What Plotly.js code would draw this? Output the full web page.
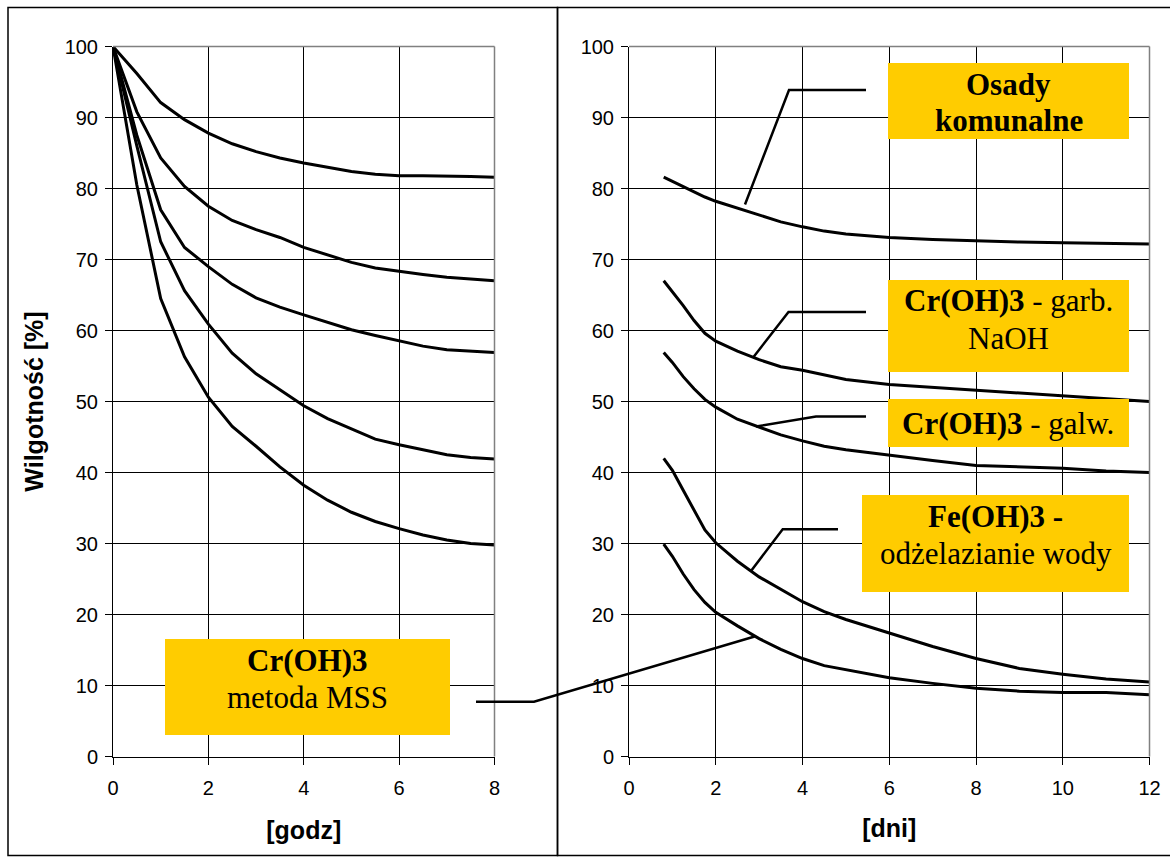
<!DOCTYPE html>
<html>
<head>
<meta charset="utf-8">
<script src="https://cdn.plot.ly/plotly-3.0.1.min.js"></script>
<style>html,body{margin:0;padding:0;background:#fff;}#chart{width:1170px;height:857px;}</style>
</head>
<body>
<div id="chart"></div>
<script>
// ---- data: left panel (hours) ----
const hours = [0,0.5,1,1.5,2,2.5,3,3.5,4,4.5,5,5.5,6,6.5,7,7.5,8];
const godz1 = [100,96.2,92.1,89.7,87.8,86.3,85.2,84.3,83.6,83.0,82.4,82.0,81.8,81.8,81.8,81.7,81.6];
const godz2 = [100,90.8,84.3,80.3,77.5,75.5,74.2,73.1,71.7,70.6,69.6,68.8,68.3,67.9,67.5,67.3,67.0];
const godz3 = [100,87.5,77.0,71.7,69.0,66.5,64.6,63.3,62.2,61.1,60.1,59.3,58.6,57.8,57.3,57.1,56.9];
const godz4 = [100,86.0,72.5,65.6,60.9,56.8,53.9,51.6,49.4,47.6,46.1,44.7,43.9,43.2,42.5,42.1,41.9];
const godz5 = [100,80.5,64.5,56.3,50.6,46.5,43.7,40.8,38.2,36.1,34.4,33.1,32.1,31.2,30.5,30.0,29.8];

// ---- data: right panel (days) ----
const days = [0.8,1,1.25,1.5,1.75,2,2.5,3,3.5,4,4.5,5,6,7,8,9,10,11,12];
const osadyKom = [81.6,81.0,80.2,79.5,78.8,78.2,77.2,76.2,75.3,74.6,74.0,73.6,73.1,72.8,72.6,72.45,72.35,72.25,72.2];
const crGarb   = [67.0,65.5,63.5,61.4,59.6,58.5,57.1,55.9,54.9,54.4,53.7,53.1,52.4,52.0,51.6,51.25,50.9,50.5,50.0];
const crGalw   = [56.9,55.5,53.5,51.8,50.3,49.2,47.5,46.35,45.3,44.45,43.7,43.2,42.4,41.7,41.0,40.8,40.6,40.2,40.0];
const feOdz    = [42.0,40.3,37.5,34.6,31.9,30.1,27.5,25.3,23.5,21.8,20.4,19.3,17.4,15.5,13.8,12.4,11.6,10.9,10.5];
const crMss    = [29.9,28.2,25.7,23.5,21.7,20.3,18.4,16.6,15.1,13.8,12.8,12.2,11.1,10.3,9.6,9.2,9.0,9.0,8.7];

// ---- labels ----
const yTitle = 'Wilgotność [%]';
const xTitleLeft = '[godz]';
const xTitleRight = '[dni]';

const W = 1170, H = 857;
const X = p => p / W;
const Y = p => 1 - p / H;

const lineStyle = {color:'#000', width:3};
function tr(x, y, xa, ya){
  return {x:x, y:y, xaxis:xa, yaxis:ya, type:'scatter', mode:'lines', line:lineStyle, hoverinfo:'skip'};
}
const data = [
  tr(hours, godz1, 'x', 'y'),
  tr(hours, godz2, 'x', 'y'),
  tr(hours, godz3, 'x', 'y'),
  tr(hours, godz4, 'x', 'y'),
  tr(hours, godz5, 'x', 'y'),
  tr(days, osadyKom, 'x2', 'y2'),
  tr(days, crGarb, 'x2', 'y2'),
  tr(days, crGalw, 'x2', 'y2'),
  tr(days, feOdz, 'x2', 'y2'),
  tr(days, crMss, 'x2', 'y2')
];

const tickFont = {family:'Liberation Sans, Arial, sans-serif', size:20, color:'#000'};
const titleFont = {family:'Liberation Sans, Arial, sans-serif', size:25, color:'#000'};
function axis(extra){
  return Object.assign({
    showgrid:true, gridcolor:'#000', gridwidth:1,
    zeroline:false, showline:true, linecolor:'#000', linewidth:1,
    ticks:'outside', ticklen:7, tickwidth:1, tickcolor:'#000',
    tickfont:tickFont, fixedrange:true, automargin:false, tick0:0
  }, extra);
}
const yDom = [Y(756.5), Y(46.5)];

const shapes = [];
// panel frames
shapes.push({type:'rect', xref:'paper', yref:'paper', x0:X(8), x1:X(557.5), y0:Y(855.5), y1:Y(7.5), line:{color:'#000', width:1.5}, layer:'above'});
shapes.push({type:'rect', xref:'paper', yref:'paper', x0:X(557.5), x1:X(1180), y0:Y(855.5), y1:Y(7.5), line:{color:'#000', width:1.5}, layer:'above'});
// grey plot-area border (top and right)
['x','x2'].forEach((xa,i)=>{
  const ya = i===0 ? 'y' : 'y2';
  shapes.push({type:'line', xref:xa+' domain', yref:ya+' domain', x0:0, x1:1, y0:1, y1:1, line:{color:'#808080', width:1.5}, layer:'above'});
  shapes.push({type:'line', xref:xa+' domain', yref:ya+' domain', x0:1, x1:1, y0:0, y1:1, line:{color:'#808080', width:1.5}, layer:'above'});
});
// label boxes
const boxes = [
  [888,1129,63,139],
  [888,1129,280,372],
  [888,1129,399,447],
  [862,1129,495,592],
  [165,450,639,735]
];
boxes.forEach(b=>shapes.push({type:'rect', xref:'paper', yref:'paper', x0:X(b[0]), x1:X(b[1]), y0:Y(b[3]), y1:Y(b[2]), fillcolor:'#FFCC00', line:{width:0}, layer:'above'}));
// leader lines
const leaders = [
  [[745,204.5],[789,90],[866,90]],
  [[753.5,357],[788.5,312],[866,312]],
  [[756,426.5],[816,416.5],[866,416.5]],
  [[751,571],[782.7,529.3],[838,529.3]],
  [[476,701.7],[534,701.7],[754.6,636.5]]
];
leaders.forEach(pts=>{
  const d = pts.map((p,i)=>(i?'L':'M')+X(p[0]).toFixed(5)+','+Y(p[1]).toFixed(5)).join(' ');
  shapes.push({type:'path', xref:'paper', yref:'paper', path:d, line:{color:'#000', width:2.5}, layer:'above'});
});

const serif = 'Liberation Serif, Times New Roman, serif';
function lbl(x, y, text){
  return {xref:'paper', yref:'paper', x:X(x), y:Y(y), xanchor:'center', yanchor:'middle', showarrow:false, text:text, font:{family:serif, size:31, color:'#000'}};
}
const annotations = [
  lbl(1008.5, 84, '<b>Osady</b>'),
  lbl(1008.5, 120, '<b>komunalne</b>'),
  lbl(1008, 300, '<b>Cr(OH)3</b> - garb.'),
  lbl(1008, 338, 'NaOH'),
  lbl(1008, 423, '<b>Cr(OH)3</b> - galw.'),
  lbl(995.5, 516, '<b>Fe(OH)3 -</b>'),
  lbl(995.5, 553, 'odżelazianie wody'),
  lbl(307.5, 660, '<b>Cr(OH)3</b>'),
  lbl(307.5, 697, 'metoda MSS')
];

const layout = {
  width:W, height:H, margin:{l:0, r:0, t:0, b:0},
  paper_bgcolor:'#fff', plot_bgcolor:'#fff', showlegend:false,
  xaxis: axis({domain:[X(113), X(494.5)], range:[0,8], dtick:2, anchor:'y', ticklabelstandoff:6,
    title:{text:'<b>'+xTitleLeft+'</b>', font:titleFont, standoff:23}}),
  yaxis: axis({domain:yDom, range:[0,100], dtick:10, anchor:'x', ticklabelstandoff:3,
    title:{text:'<b>'+yTitle+'</b>', font:titleFont, standoff:13}}),
  xaxis2: axis({domain:[X(629), X(1149.5)], range:[0,12], dtick:2, anchor:'y2', ticklabelstandoff:6,
    title:{text:'<b>'+xTitleRight+'</b>', font:titleFont, standoff:21}}),
  yaxis2: axis({domain:yDom, range:[0,100], dtick:10, anchor:'x2', ticklabelstandoff:3}),
  shapes:shapes, annotations:annotations
};

Plotly.newPlot('chart', data, layout, {staticPlot:true, displayModeBar:false});
</script>
</body>
</html>
